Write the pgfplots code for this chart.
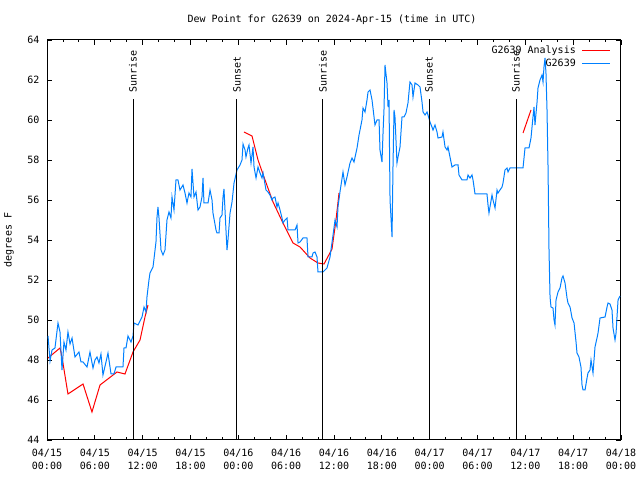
\documentclass[border=0pt]{standalone}
\usepackage{pgfplots}
\usepackage{pgfplotstable}
\pgfplotsset{compat=1.18}
\usepackage{fontspec}
\setmainfont{DejaVu Sans Mono}
\definecolor{obsblue}{RGB}{0,128,255}
\definecolor{anared}{RGB}{255,0,0}

\pgfplotstableread{
h v
0.13 49.2
0.38 47.95
0.63 48.5
1.00 48.6
1.38 49.85
1.63 49.4
1.88 47.5
2.13 48.9
2.38 48.5
2.63 49.4
2.89 48.8
3.14 49.1
3.51 48.15
4.01 48.4
4.26 47.9
4.52 47.9
5.02 47.65
5.39 48.4
5.77 47.6
6.02 48.0
6.27 48.15
6.52 47.85
6.77 48.3
7.02 47.25
7.40 47.9
7.65 48.35
8.03 47.3
8.40 47.3
8.66 47.65
9.53 47.65
9.66 48.6
9.91 48.6
10.16 49.2
10.54 48.9
10.79 49.2
10.91 49.85
11.42 49.75
11.92 50.15
12.17 50.65
12.42 50.4
12.54 51.15
12.79 52.0
12.92 52.35
13.30 52.65
13.67 53.9
13.80 55.15
13.92 55.65
14.05 55.1
14.30 53.5
14.55 53.25
14.80 53.5
15.05 55.0
15.30 55.4
15.55 55.1
15.68 56.15
15.93 55.5
16.18 57.0
16.43 57.0
16.68 56.5
17.06 56.75
17.31 56.35
17.56 55.85
17.81 56.35
18.06 56.15
18.19 57.55
18.44 56.15
18.69 56.4
18.94 55.5
19.19 55.65
19.44 56.15
19.57 57.1
19.69 55.85
20.20 55.85
20.45 56.5
20.70 56.0
20.82 55.35
21.20 54.5
21.32 54.35
21.58 54.35
21.70 55.1
21.95 55.25
22.08 56.15
22.20 56.55
22.45 54.5
22.58 53.5
22.70 54.0
22.96 55.35
23.21 55.9
23.46 56.85
23.83 57.5
24.21 57.75
24.46 58.0
24.59 58.8
24.84 58.5
24.96 58.15
25.21 58.6
25.34 58.75
25.59 57.85
25.84 58.65
25.97 57.65
26.22 57.1
26.47 57.65
26.72 57.35
26.97 57.1
27.10 57.35
27.47 56.5
27.72 56.4
27.97 56.25
28.22 56.0
28.35 56.1
28.60 56.15
28.85 55.65
28.98 55.85
29.23 55.5
29.48 55.1
29.60 54.85
29.85 55.0
30.11 55.1
30.23 54.5
31.11 54.5
31.36 54.75
31.49 53.85
31.74 53.9
32.11 54.1
32.61 54.1
32.74 53.15
33.24 53.15
33.37 53.35
33.62 53.4
33.87 53.15
33.99 52.4
34.62 52.4
35.12 52.6
35.50 53.15
35.88 54.25
36.13 55.0
36.38 54.65
36.50 55.65
36.75 56.4
37.13 57.4
37.38 56.75
37.63 57.15
38.01 57.85
38.26 58.1
38.51 57.9
38.89 58.6
39.14 59.25
39.51 60.0
39.64 60.6
39.89 60.4
40.14 61.0
40.27 61.4
40.52 61.5
40.77 61.0
40.89 60.6
41.14 59.75
41.40 60.0
41.65 60.0
41.77 58.5
42.02 57.9
42.15 59.35
42.27 60.5
42.40 62.75
42.65 61.85
42.78 60.65
42.90 61.0
43.03 56.0
43.28 54.15
43.40 57.65
43.53 60.5
43.65 60.15
43.90 57.85
44.03 58.15
44.28 58.65
44.53 60.15
44.78 60.15
45.03 60.35
45.28 60.85
45.53 61.9
45.79 61.75
45.91 61.15
46.16 61.85
46.54 61.75
46.79 61.65
47.04 60.9
47.17 60.4
47.42 60.25
47.67 60.4
47.79 60.25
48.04 59.9
48.29 59.65
48.42 59.5
48.67 59.75
48.92 59.4
49.05 59.1
49.55 59.15
49.67 59.4
49.93 58.65
50.18 58.5
50.30 58.65
50.55 58.15
50.80 57.65
51.18 57.75
51.56 57.75
51.68 57.25
52.06 57.0
52.68 57.0
52.81 57.25
53.06 57.1
53.31 57.25
53.44 57.0
53.69 56.3
55.19 56.3
55.32 55.75
55.44 55.35
55.82 56.25
55.95 56.0
56.20 55.6
56.45 56.5
56.57 56.35
56.82 56.5
57.08 56.65
57.20 56.85
57.45 57.5
57.70 57.6
57.83 57.4
58.08 57.6
59.71 57.6
59.96 58.6
60.46 58.6
60.71 59.1
60.96 60.15
61.09 60.65
61.21 59.75
61.47 60.9
61.59 61.6
61.84 62.0
62.09 62.25
62.22 61.9
62.34 62.65
62.47 63.1
62.59 62.35
62.72 60.5
62.85 57.6
62.97 53.5
63.10 51.15
63.22 50.65
63.47 50.6
63.60 50.0
63.72 49.75
63.85 51.0
64.10 51.4
64.35 51.6
64.60 52.1
64.73 52.2
64.98 51.85
65.23 51.1
65.35 50.85
65.61 50.65
65.86 50.1
66.11 49.85
66.36 48.9
66.48 48.35
66.73 48.15
66.98 47.65
67.11 46.75
67.24 46.5
67.49 46.5
67.74 47.1
67.86 47.35
68.11 47.5
68.24 48.0
68.49 47.35
68.74 48.65
68.99 49.1
69.12 49.35
69.37 50.1
70.00 50.15
70.25 50.65
70.37 50.85
70.62 50.8
70.87 50.5
71.00 49.6
71.25 49.0
71.38 49.35
71.50 50.15
71.63 51.0
71.88 51.2
}\obsdata

\pgfplotstableread{
h v
0.13 48.1
1.63 48.6
1.88 48.15
2.63 46.3
4.52 46.8
5.64 45.4
6.65 46.75
8.78 47.4
9.78 47.3
10.79 48.4
11.67 49.0
12.29 50.15
12.67 50.75
}\anaA

\pgfplotstableread{
h v
24.71 59.4
25.72 59.2
26.47 58.0
27.35 57.0
28.35 55.9
29.60 54.85
30.86 53.85
31.74 53.65
32.99 53.1
33.99 52.85
34.75 52.8
35.75 53.55
36.25 55.0
36.63 56.35
}\anaB

\pgfplotstableread{
h v
59.71 59.35
60.71 60.5
}\anaC

\begin{document}
\begin{tikzpicture}
\useasboundingbox (0,0) rectangle (640bp,480bp);
\begin{axis}[
  at={(47bp,40bp)}, anchor=south west,
  scale only axis, width=574bp, height=400bp,
  xmin=0, xmax=72, ymin=44, ymax=64,
  xtick={0,6,...,72},
  minor x tick num=2,
  ytick={44,46,...,64},
  xticklabels={04/15\\00:00,04/15\\06:00,04/15\\12:00,04/15\\18:00,04/16\\00:00,04/16\\06:00,04/16\\12:00,04/16\\18:00,04/17\\00:00,04/17\\06:00,04/17\\12:00,04/17\\18:00,04/18\\00:00},
  xticklabel style={align=center, font=\fontsize{10bp}{12.5bp}\selectfont, yshift=-6bp},
  yticklabel style={font=\fontsize{10bp}{11bp}\selectfont, xshift=-4bp},
  /pgf/number format/assume math mode=true,
  tick align=inside,
  major tick length=5bp, minor tick length=2.5bp,
  tick style={black, line width=0.8bp},
  axis line style={black, line width=1bp},
  legend cell align=right,
  legend plot pos=right,
  legend image code/.code={\path (0bp,0bp) (5bp,0bp); \draw[#1, line width=1bp] (5bp,0bp) -- (33bp,0bp);},
  legend style={draw=none, fill=none, at={(1,1)}, anchor=north east,
    xshift=-10bp, yshift=-5bp, inner sep=0pt, row sep=2bp,
    nodes={inner sep=1bp}, font=\fontsize{10bp}{11bp}\selectfont},
]
\addplot[anared, line width=1bp] table[x=h, y=v] {\anaA};
\addlegendentry{G2639 Analysis}
\addplot[anared, line width=1bp, forget plot] table[x=h, y=v] {\anaB};
\addplot[anared, line width=1bp, forget plot] table[x=h, y=v] {\anaC};
\addplot[obsblue, line width=1bp] table[x=h, y=v] {\obsdata};
\addlegendentry{G2639}

\addplot[black, line width=1bp, forget plot] coordinates {(10.79,44) (10.79,61.05)};
\addplot[black, line width=1bp, forget plot] coordinates {(23.83,44) (23.83,61.05)};
\addplot[black, line width=1bp, forget plot] coordinates {(34.62,44) (34.62,61.05)};
\addplot[black, line width=1bp, forget plot] coordinates {(47.92,44) (47.92,61.05)};
\addplot[black, line width=1bp, forget plot] coordinates {(58.83,44) (58.83,61.05)};
\node[rotate=90, anchor=west, inner sep=0pt, font=\fontsize{10bp}{11bp}\selectfont] at (axis cs:10.79,61.35) {Sunrise};
\node[rotate=90, anchor=west, inner sep=0pt, font=\fontsize{10bp}{11bp}\selectfont] at (axis cs:23.83,61.35) {Sunset};
\node[rotate=90, anchor=west, inner sep=0pt, font=\fontsize{10bp}{11bp}\selectfont] at (axis cs:34.62,61.35) {Sunrise};
\node[rotate=90, anchor=west, inner sep=0pt, font=\fontsize{10bp}{11bp}\selectfont] at (axis cs:47.92,61.35) {Sunset};
\node[rotate=90, anchor=west, inner sep=0pt, font=\fontsize{10bp}{11bp}\selectfont] at (axis cs:58.83,61.35) {Sunrise};
\end{axis}
\node[font=\fontsize{10bp}{11bp}\selectfont] at (332bp,460bp) {Dew Point for G2639 on 2024-Apr-15 (time in UTC)};
\node[rotate=90, font=\fontsize{10bp}{11bp}\selectfont] at (9bp,240bp) {degrees F};
\end{tikzpicture}
\end{document}
